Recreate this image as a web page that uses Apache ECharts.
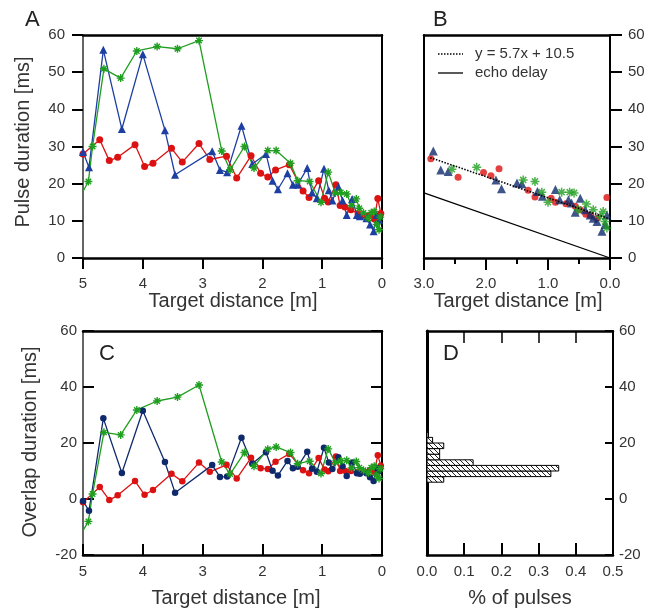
<!DOCTYPE html>
<html><head><meta charset="utf-8">
<script src="https://cdn.jsdelivr.net/npm/echarts@6/dist/echarts.min.js"></script>
<style>html,body{margin:0;padding:0;background:#fff}#c{width:649px;height:609px}</style>
</head><body><div id="c"></div>
<script>
// ---- data ----
// Panels A and C (full approach, distance in m)
const redDist    = [5.0,4.72,4.56,4.42,4.13,3.97,3.83,3.52,3.34,3.06,2.88,2.6,2.43,2.19,2.03,1.91,1.78,1.55,1.32,1.22,1.06,0.96,0.9,0.77,0.7,0.62,0.52,0.4,0.28,0.2,0.13,0.07,0.02];
const redPulse   = [28.0,31.8,26.2,27.1,30.5,24.6,25.5,29.5,25.8,30.8,26.5,27.4,21.5,27.5,22.8,21.8,23.7,25.1,18.0,16.3,20.8,16.1,15.1,19.7,14.1,13.7,13.0,11.9,11.2,11.6,10.5,16.0,12.0];
const redOverlap = [-1.2,4.3,-0.4,1.3,6.4,1.5,3.2,9.0,6.3,13.0,9.7,12.2,7.3,14.7,11.0,10.7,13.3,16.1,10.3,9.2,14.6,10.5,9.9,15.2,10.0,10.1,10.0,9.6,9.6,10.4,9.7,15.6,11.9];

const blueDist    = [5.0,4.9,4.66,4.35,4.0,3.63,3.46,2.84,2.71,2.59,2.35,2.17,1.94,1.83,1.74,1.58,1.49,1.41,1.25,1.17,1.09,0.97,0.89,0.83,0.73,0.66,0.59,0.5,0.42,0.37,0.26,0.2,0.14,0.09,0.05];
const bluePulse   = [28.5,24.4,56.0,34.7,54.8,34.4,22.4,28.7,23.7,23.1,35.6,25.3,28.0,20.8,18.5,22.8,19.7,19.7,24.2,17.6,16.1,24.0,18.2,15.5,19.2,15.5,11.6,15.9,11.6,11.2,10.7,9.0,7.2,11.6,10.3];
const blueOverlap = [-0.7,-4.2,28.8,9.3,31.5,13.2,2.2,12.1,7.9,8.0,21.9,12.6,16.7,10.1,8.4,13.6,11.0,11.5,16.9,10.8,9.7,18.3,13.0,10.7,14.9,11.7,8.2,13.0,9.2,9.0,9.2,7.8,6.4,11.1,10.0];

const greenDist    = [5.0,4.91,4.84,4.65,4.37,4.1,3.76,3.42,3.06,2.68,2.54,2.3,2.14,1.91,1.77,1.53,1.41,1.21,1.02,0.9,0.78,0.69,0.59,0.51,0.43,0.38,0.31,0.23,0.18,0.13,0.09,0.05,0.03];
const greenPulse   = [17.9,20.6,30.0,50.9,48.4,55.7,56.9,56.3,58.5,28.8,23.7,30.0,24.2,28.9,28.9,25.5,20.8,20.6,15.0,23.1,17.5,17.6,17.2,14.1,15.9,13.4,12.1,10.7,12.2,12.5,9.0,7.6,11.0];
const greenOverlap = [-11.3,-8.0,1.8,23.8,22.9,31.8,35.0,36.4,40.7,13.2,8.9,16.6,11.7,17.8,18.6,16.6,12.6,13.5,9.1,17.9,13.0,13.6,13.8,11.1,13.4,11.2,10.3,9.4,11.2,11.7,8.5,7.3,10.8];

// Panel B (points within 3 m)
const bRedDist    = [2.89,2.45,2.04,1.92,1.79,1.32,1.21,0.95,0.88,0.71,0.56,0.48,0.39,0.32,0.21,0.05];
const bRedPulse   = [26.7,21.7,23.0,22.1,24.0,18.2,16.4,16.1,15.0,14.6,13.9,13.0,11.8,11.5,10.7,16.3];
const bBlueDist   = [2.85,2.73,2.61,1.84,1.75,1.5,1.42,1.17,1.09,0.88,0.81,0.67,0.62,0.48,0.56,0.4,0.32,0.27,0.21,0.13,0.08,0.05];
const bBluePulse  = [28.8,23.7,23.3,21.0,18.6,20.2,20.0,17.9,16.6,18.4,15.7,15.7,14.8,16.1,12.3,13.0,11.6,10.7,9.8,7.2,9.0,11.6];
const bGreenDist  = [2.55,2.15,1.4,1.21,1.1,1.0,0.78,0.65,0.58,0.38,0.51,0.27,0.11,0.16,0.08,0.05];
const bGreenPulse = [23.9,24.4,21.0,20.6,17.7,15.0,17.7,17.7,17.5,14.5,13.0,13.0,12.5,11.2,9.8,8.1];

const fitX  = [2.9, 0];
const fitY  = [27.0, 10.5];
const echoX = [3.0, 0];
const echoY = [17.5, 0];

// Panel D histogram (overlap bins in ms, fraction of pulses)
const histLow  = [6, 8, 10, 12, 14, 16, 18, 20, 22];
const histHigh = [8, 10, 12, 14, 16, 18, 20, 22, 24];
const histPct  = [0.045, 0.333, 0.354, 0.124, 0.034, 0.034, 0.045, 0.015, 0.004];

// ---- styling ----
const FONT = '"Liberation Sans", Arial, sans-serif';
const RED = '#dc1212', BLUE = '#1d3fa2', NAVY = '#0f2a6c', GREEN = '#1f9e1f';
const LBL = {color:'#333', fontSize:15, fontFamily:FONT};
const star = 'path://M5,0L5,10M0,5L10,5M1.6,1.6L8.4,8.4M1.6,8.4L8.4,1.6';

function pairs(xs, ys){ return xs.map((x,i)=>[x, ys[i]]); }

const hatch = document.createElement('canvas'); hatch.width = 5; hatch.height = 5;
const hc = hatch.getContext('2d');
hc.fillStyle = '#fff'; hc.fillRect(0,0,5,5);
hc.strokeStyle = '#222'; hc.lineWidth = 1;
hc.beginPath(); hc.moveTo(-1,-1); hc.lineTo(6,6); hc.stroke();

function frameX(g, min, max, pos, inv, extra){
  return Object.assign({gridIndex:g, type:'value', min:min, max:max, inverse:!!inv, position:pos,
    axisLine:{onZero:false, lineStyle:{color:'#000', width:2.5}}, axisTick:{show:false}, axisLabel:{show:false},
    splitLine:{show:false}}, extra||{});
}
function frameY(g, min, max, pos, extra){
  return Object.assign({gridIndex:g, type:'value', min:min, max:max, position:pos,
    axisLine:{onZero:false, lineStyle:{color:'#000', width:2}}, axisTick:{show:false}, axisLabel:{show:false},
    splitLine:{show:false}}, extra||{});
}

const chart = echarts.init(document.getElementById('c'), null, {renderer:'canvas'});

const option = {
  animation: false,
  backgroundColor: '#fff',
  grid: [
    {left:83, top:35, width:299, height:223},
    {left:424, top:35, width:186, height:223},
    {left:83, top:331, width:299, height:224},
    {left:427, top:331, width:186, height:224}
  ],
  xAxis: [
    {gridIndex:0, type:'value', min:0, max:5, interval:1, inverse:true, position:'bottom',
      axisLine:{onZero:false, lineStyle:{color:'#000', width:2.5}},
      axisTick:{inside:false, length:11, lineStyle:{color:'#000', width:2}},
      axisLabel:Object.assign({margin:18}, LBL), splitLine:{show:false}},
    frameX(0, 0, 5, 'top', true),
    {gridIndex:1, type:'value', min:0, max:3, interval:1, inverse:true, position:'bottom',
      axisLine:{onZero:false, lineStyle:{color:'#000', width:2.5}},
      axisTick:{inside:false, length:12, lineStyle:{color:'#000', width:2}},
      minorTick:{show:true, splitNumber:2, length:6, lineStyle:{color:'#000', width:2}},
      axisLabel:Object.assign({margin:18, formatter:v=>v.toFixed(1)}, LBL), splitLine:{show:false}},
    frameX(1, 0, 3, 'top', true),
    {gridIndex:2, type:'value', min:0, max:5, interval:1, inverse:true, position:'bottom',
      axisLine:{onZero:false, lineStyle:{color:'#000', width:2.5}},
      axisTick:{inside:true, length:11, lineStyle:{color:'#000', width:2}},
      axisLabel:Object.assign({margin:9}, LBL), splitLine:{show:false}},
    frameX(2, 0, 5, 'top', true),
    {gridIndex:3, type:'value', min:0, max:0.5, interval:0.1, position:'bottom',
      axisLine:{onZero:false, lineStyle:{color:'#000', width:2.5}},
      axisTick:{inside:true, length:12, lineStyle:{color:'#000', width:2}},
      axisLabel:Object.assign({margin:9, formatter:v=>v.toFixed(1)}, LBL), splitLine:{show:false}},
    frameX(3, 0, 0.5, 'top', false, {interval:0.1, axisTick:{show:true, inside:true, length:12, lineStyle:{color:'#000', width:1.5}}})
  ],
  yAxis: [
    {gridIndex:0, type:'value', min:0, max:60, interval:10, position:'left',
      axisLine:{onZero:false, lineStyle:{color:'#666', width:2}},
      axisTick:{inside:false, length:11, lineStyle:{color:'#000', width:2}},
      axisLabel:Object.assign({margin:18}, LBL), splitLine:{show:false}},
    frameY(0, 0, 60, 'right'),
    {gridIndex:1, type:'value', min:0, max:60, interval:10, position:'right',
      axisLine:{onZero:false, lineStyle:{color:'#000', width:2}},
      axisTick:{inside:false, length:12, lineStyle:{color:'#000', width:2}},
      axisLabel:Object.assign({margin:18}, LBL), splitLine:{show:false}},
    frameY(1, 0, 60, 'left'),
    {gridIndex:2, type:'value', min:-20, max:60, interval:20, position:'left',
      axisLine:{onZero:false, lineStyle:{color:'#666', width:2}},
      axisTick:{inside:true, length:11, lineStyle:{color:'#000', width:2}},
      axisLabel:Object.assign({margin:6}, LBL), splitLine:{show:false}},
    frameY(2, -20, 60, 'right', {interval:20, axisTick:{show:true, inside:true, length:11, lineStyle:{color:'#000', width:2}}}),
    {gridIndex:3, type:'value', min:-20, max:60, interval:20, position:'right',
      axisLine:{onZero:false, lineStyle:{color:'#000', width:2}},
      axisTick:{inside:true, length:8, lineStyle:{color:'#000', width:2}},
      axisLabel:Object.assign({margin:6}, LBL), splitLine:{show:false}},
    frameY(3, -20, 60, 'left', {axisLine:{onZero:false, lineStyle:{color:'#000', width:3}}})
  ],
  series: [
    // Panel A
    {type:'line', xAxisIndex:0, yAxisIndex:0, data:pairs(redDist, redPulse), symbol:'circle', symbolSize:7,
      showAllSymbol:true, lineStyle:{color:RED, width:1.3}, itemStyle:{color:RED}},
    {type:'line', xAxisIndex:0, yAxisIndex:0, data:pairs(blueDist, bluePulse), symbol:'triangle', symbolSize:8,
      showAllSymbol:true, lineStyle:{color:BLUE, width:1.3}, itemStyle:{color:BLUE}},
    {type:'line', xAxisIndex:0, yAxisIndex:0,
      data:pairs(greenDist, greenPulse).map((p,i)=> i===0 ? {value:p, symbol:'none'} : p),
      symbol:star, symbolSize:8, showAllSymbol:true, lineStyle:{color:GREEN, width:1.3},
      itemStyle:{color:GREEN, borderColor:GREEN, borderWidth:1.4}},
    // Panel B
    {type:'line', xAxisIndex:2, yAxisIndex:2, data:pairs(echoX, echoY), symbol:'none',
      lineStyle:{color:'#000', width:1.3}},
    {type:'line', xAxisIndex:2, yAxisIndex:2, data:pairs(fitX, fitY), symbol:'none',
      lineStyle:{color:'#000', width:1.6, type:[1.5,1.5]}},
    {type:'scatter', xAxisIndex:2, yAxisIndex:2, data:pairs(bRedDist, bRedPulse), symbol:'circle', symbolSize:7,
      itemStyle:{color:RED}},
    {type:'scatter', xAxisIndex:2, yAxisIndex:2, data:pairs(bBlueDist, bBluePulse), symbol:'triangle', symbolSize:9,
      itemStyle:{color:NAVY}},
    {type:'scatter', xAxisIndex:2, yAxisIndex:2, data:pairs(bGreenDist, bGreenPulse), symbol:star, symbolSize:9,
      itemStyle:{color:GREEN, borderColor:GREEN, borderWidth:1.5}},
    // Panel C
    {type:'line', xAxisIndex:4, yAxisIndex:4, data:pairs(redDist, redOverlap), symbol:'circle', symbolSize:6.5,
      showAllSymbol:true, lineStyle:{color:RED, width:1.3}, itemStyle:{color:RED}},
    {type:'line', xAxisIndex:4, yAxisIndex:4, data:pairs(blueDist, blueOverlap), symbol:'circle', symbolSize:6.5,
      showAllSymbol:true, lineStyle:{color:NAVY, width:1.3}, itemStyle:{color:NAVY}},
    {type:'line', xAxisIndex:4, yAxisIndex:4,
      data:pairs(greenDist, greenOverlap).map((p,i)=> i===0 ? {value:p, symbol:'none'} : p),
      symbol:star, symbolSize:8, showAllSymbol:true, lineStyle:{color:GREEN, width:1.3},
      itemStyle:{color:GREEN, borderColor:GREEN, borderWidth:1.4}},
    // Panel D
    {type:'custom', xAxisIndex:6, yAxisIndex:6,
      data: histLow.map((lo,i)=>[lo, histHigh[i], histPct[i]]),
      encode:{x:2, y:[0,1]},
      renderItem:function(params, api){
        const lo = api.value(0), hi = api.value(1), pct = api.value(2);
        const p1 = api.coord([0, hi]);
        const p2 = api.coord([pct, lo]);
        return {type:'rect', shape:{x:p1[0], y:p1[1], width:p2[0]-p1[0], height:p2[1]-p1[1]},
          style:{fill:{image:hatch, repeat:'repeat'}, stroke:'#000', lineWidth:1}};
      }}
  ],
  graphic: [
    {type:'text', left:25, top:9, style:{text:'A', fontSize:22, fontFamily:FONT, fill:'#222'}},
    {type:'text', left:433, top:9, style:{text:'B', fontSize:22, fontFamily:FONT, fill:'#222'}},
    {type:'text', left:99, top:343, style:{text:'C', fontSize:22, fontFamily:FONT, fill:'#222'}},
    {type:'text', left:443, top:343, style:{text:'D', fontSize:22, fontFamily:FONT, fill:'#222'}},
    {type:'text', x:23, y:142, rotation:Math.PI/2,
      style:{text:'Pulse duration [ms]', fontSize:20, fontFamily:FONT, fill:'#333', textAlign:'center', textVerticalAlign:'middle'}},
    {type:'text', x:30, y:442, rotation:Math.PI/2,
      style:{text:'Overlap duration [ms]', fontSize:20, fontFamily:FONT, fill:'#333', textAlign:'center', textVerticalAlign:'middle'}},
    {type:'text', x:233, y:301,
      style:{text:'Target distance [m]', fontSize:20, fontFamily:FONT, fill:'#333', textAlign:'center', textVerticalAlign:'middle'}},
    {type:'text', x:518, y:301,
      style:{text:'Target distance [m]', fontSize:20, fontFamily:FONT, fill:'#333', textAlign:'center', textVerticalAlign:'middle'}},
    {type:'text', x:236, y:598,
      style:{text:'Target distance [m]', fontSize:20, fontFamily:FONT, fill:'#333', textAlign:'center', textVerticalAlign:'middle'}},
    {type:'text', x:520, y:598,
      style:{text:'% of pulses', fontSize:20, fontFamily:FONT, fill:'#333', textAlign:'center', textVerticalAlign:'middle'}},
    // legend in B
    {type:'line', shape:{x1:438, y1:54, x2:463, y2:54}, style:{stroke:'#000', lineWidth:1.6, lineDash:[1.5,1.5]}},
    {type:'text', x:475, y:54, style:{text:'y = 5.7x + 10.5', fontSize:15, fontFamily:FONT, fill:'#333', textVerticalAlign:'middle'}},
    {type:'line', shape:{x1:438, y1:73, x2:463, y2:73}, style:{stroke:'#000', lineWidth:1.3}},
    {type:'text', x:475, y:73, style:{text:'echo delay', fontSize:15, fontFamily:FONT, fill:'#333', textVerticalAlign:'middle'}}
  ]
};
chart.setOption(option);
</script>
</body></html>
